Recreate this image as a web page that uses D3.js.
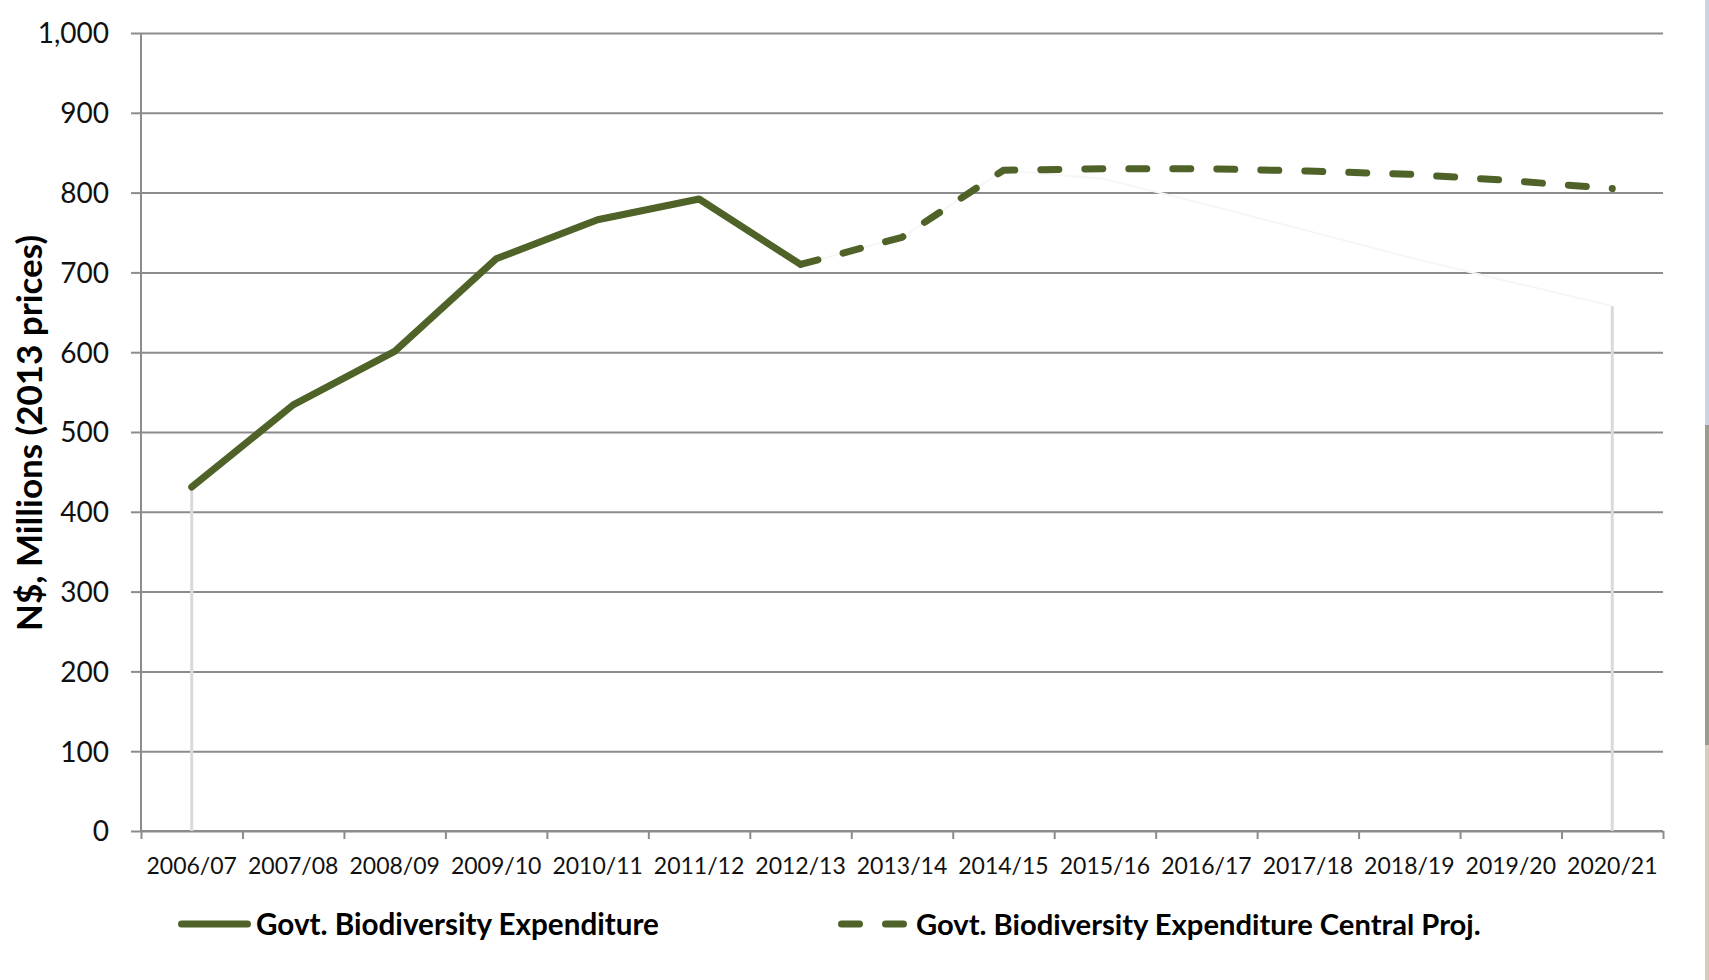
<!DOCTYPE html>
<html>
<head>
<meta charset="utf-8">
<script src="https://cdn.jsdelivr.net/npm/d3@7"></script>
<style>
  html, body { margin: 0; padding: 0; background: #fff; }
  svg { display: block; font-family: Lato, "Open Sans", sans-serif; }
</style>
</head>
<body>
<script>
// financial years
var years = ["2006/07","2007/08","2008/09","2009/10","2010/11","2011/12","2012/13",
             "2013/14","2014/15","2015/16","2016/17","2017/18","2018/19","2019/20","2020/21"];
// actual expenditure (N$ millions, 2013 prices)
var actual = [431, 534, 601, 717, 766, 792, 710, null, null, null, null, null, null, null, null];
// central projection
var central = [null, null, null, null, null, null, 710, 744, 828, 830, 830, 827, 823, 815, 805];
// barely visible (near white) lower series in the original
var lowProj = [null, null, null, null, null, null, 710, 744, 828, 817, 785, 752, 719, 688, 658];
var yTicks = [0, 100, 200, 300, 400, 500, 600, 700, 800, 900, 1000];
var legendLabels = ["Govt. Biodiversity Expenditure", "Govt. Biodiversity Expenditure Central Proj."];

var width = 1709, height = 980;
var mLeft = 141, mRight = 1663, mTop = 33, mBottom = 831;
var olive = "#4f6228";
var font = "Lato, 'Open Sans', sans-serif";

var svg = d3.select("body").append("svg").attr("width", width).attr("height", height);

// thin strip of background photo at the right edge
svg.append("rect").attr("x", 1705).attr("y", 0).attr("width", 4).attr("height", 425).attr("fill", "#c9d5e4");
svg.append("rect").attr("x", 1705).attr("y", 425).attr("width", 4).attr("height", 320).attr("fill", "#9c9c8e");
svg.append("rect").attr("x", 1705).attr("y", 745).attr("width", 4).attr("height", 235).attr("fill", "#d9ccba");

var x = d3.scaleBand().domain(years).range([mLeft, mRight]);
var xi = d3.scaleLinear().domain([0, years.length]).range([mLeft, mRight]);
var y = d3.scaleLinear().domain([0, 1000]).range([mBottom, mTop]);
function cx(d) { return x(d) + x.bandwidth() / 2; }

// gridlines
var grid = svg.append("g").attr("transform", "translate(" + mLeft + ",0)")
    .call(d3.axisLeft(y).tickValues(yTicks).tickSize(-(mRight - mLeft)).tickFormat(""));
grid.select(".domain").remove();
grid.selectAll("line").attr("stroke", "#8c8c8c").attr("stroke-width", 2);

// y axis
var yAxis = svg.append("g").attr("transform", "translate(" + mLeft + ",0)")
    .call(d3.axisLeft(y).tickValues(yTicks).tickSize(10).tickPadding(22).tickFormat(d3.format(",")))
    .attr("font-family", font);
yAxis.select(".domain").attr("stroke", "#8c8c8c").attr("stroke-width", 2).attr("d", "M0," + mBottom + "V" + mTop);
yAxis.selectAll("line").attr("stroke", "#8c8c8c").attr("stroke-width", 2);
yAxis.selectAll("text").attr("font-size", 28).attr("fill", "#111").attr("dy", "0.35em");

// x axis: ticks between categories
var xTickAxis = svg.append("g").attr("transform", "translate(0," + mBottom + ")")
    .call(d3.axisBottom(xi).tickValues(d3.range(years.length + 1)).tickSize(8).tickFormat(""));
xTickAxis.select(".domain").attr("stroke", "#8c8c8c").attr("stroke-width", 2).attr("d", "M" + mLeft + ",0H" + mRight);
xTickAxis.selectAll("line").attr("stroke", "#8c8c8c").attr("stroke-width", 2);

var xAxis = svg.append("g").attr("transform", "translate(0," + mBottom + ")")
    .call(d3.axisBottom(x).tickSize(0).tickPadding(0))
    .attr("font-family", font);
xAxis.select(".domain").remove();
xAxis.selectAll("text").attr("font-size", 23).attr("fill", "#111").attr("dy", null).attr("y", 43);

// faint drop lines at the ends
var drops = [{ yr: years[0], v: actual[0] }, { yr: years[years.length - 1], v: lowProj[lowProj.length - 1] }];
svg.selectAll(".drop").data(drops).enter().append("line")
    .attr("class", "drop")
    .attr("x1", function(d) { return cx(d.yr); }).attr("x2", function(d) { return cx(d.yr); })
    .attr("y1", function(d) { return y(d.v); }).attr("y2", mBottom)
    .attr("stroke", "#dadada").attr("stroke-width", 3);

function series(vals) {
    return years.map(function(yr, i) { return { yr: yr, v: vals[i] }; })
        .filter(function(d) { return d.v != null; });
}

var line = d3.line()
    .x(function(d) { return cx(d.yr); })
    .y(function(d) { return y(d.v); });

svg.append("path").attr("d", line(series(lowProj)))
    .attr("fill", "none").attr("stroke", "#f6f6f6").attr("stroke-width", 2);

svg.append("path").attr("d", line(series(central)))
    .attr("fill", "none").attr("stroke", olive).attr("stroke-width", 7)
    .attr("stroke-linecap", "round").attr("stroke-linejoin", "round")
    .attr("stroke-dasharray", "18,26");

svg.append("path").attr("d", line(series(actual)))
    .attr("fill", "none").attr("stroke", olive).attr("stroke-width", 7)
    .attr("stroke-linecap", "round").attr("stroke-linejoin", "round");

// fit a text element to a target width by adjusting its font size
function fit(t, w) {
    var len = t.node().getComputedTextLength();
    var fs = parseFloat(t.attr("font-size"));
    t.attr("font-size", fs * w / len);
}

// y title
var yt = svg.append("text")
    .attr("transform", "translate(42," + 433 + ") rotate(-90)")
    .attr("text-anchor", "middle").attr("font-weight", "bold").attr("font-size", 28).attr("fill", "#000")
    .text("N$, Millions (2013 prices)");
fit(yt, 396);

// legend
var legY = 924;
svg.append("line").attr("x1", 181.5).attr("x2", 247.5).attr("y1", legY).attr("y2", legY)
    .attr("stroke", olive).attr("stroke-width", 7).attr("stroke-linecap", "round");
var l1 = svg.append("text").attr("x", 256).attr("y", legY).attr("dy", "0.36em")
    .attr("font-weight", "bold").attr("font-size", 26).attr("fill", "#000").text(legendLabels[0]);
fit(l1, 403);

svg.append("line").attr("x1", 841.5).attr("x2", 903.5).attr("y1", legY).attr("y2", legY)
    .attr("stroke", olive).attr("stroke-width", 7).attr("stroke-linecap", "round")
    .attr("stroke-dasharray", "18,26");
var l2 = svg.append("text").attr("x", 916).attr("y", legY).attr("dy", "0.36em")
    .attr("font-weight", "bold").attr("font-size", 26).attr("fill", "#000").text(legendLabels[1]);
fit(l2, 565);
</script>
</body>
</html>
